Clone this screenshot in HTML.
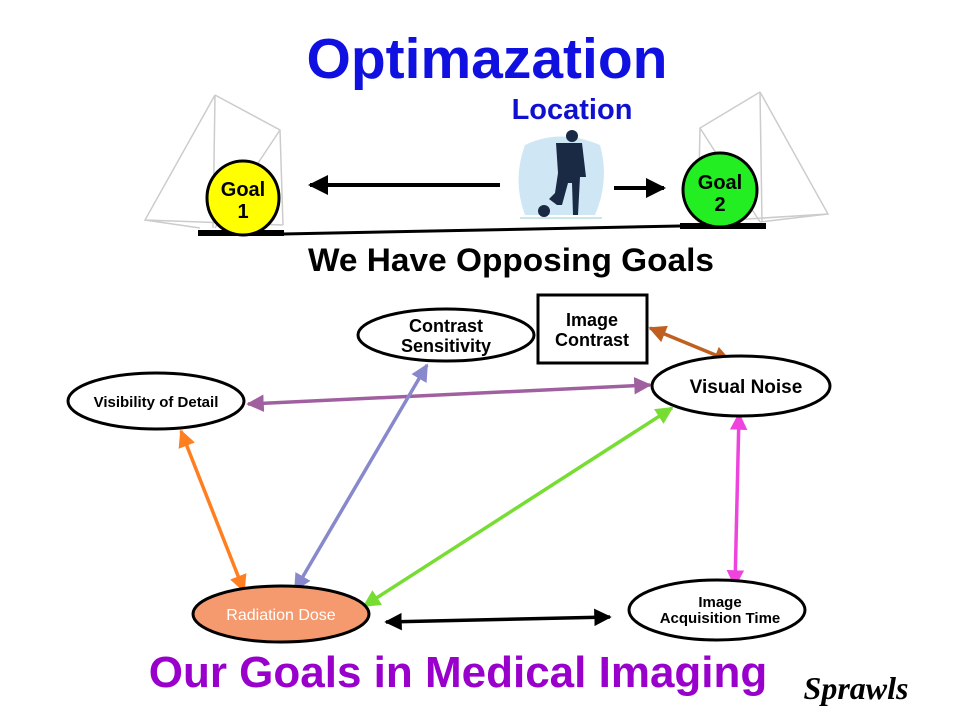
<!DOCTYPE html>
<html><head><style>body{margin:0;background:#fff}svg{display:block}</style></head><body>
<svg width="960" height="720" viewBox="0 0 960 720" xmlns="http://www.w3.org/2000/svg" font-family="Liberation Sans, sans-serif">
<defs>
<marker id="m" viewBox="0 0 10 10" refX="9" refY="5" markerWidth="5" markerHeight="5" orient="auto-start-reverse" markerUnits="strokeWidth"><path d="M0,0L10,5L0,10z" fill="context-stroke"/></marker>
</defs>
<text x="487" y="78" text-anchor="middle" font-size="57" font-weight="bold" fill="#1010e0">Optimazation</text>
<text x="572" y="119" text-anchor="middle" font-size="29" font-weight="bold" fill="#1010d0">Location</text>
<g stroke="#ccc" fill="none" stroke-width="1.5">
<path d="M215,95 L280,130 L283,225 M215,95 L213,228 M215,95 L145,220 L200,228 M280,130 L215,228 M145,220 L283,225"/>
<path d="M760,92 L700,128 L698,222 M760,92 L762,222 M760,92 L828,214 L760,222 M700,128 L760,222 M828,214 L698,222"/>
</g>
<path d="M525,145 Q560,128 600,145 Q610,180 595,215 L525,215 Q512,180 525,145z" fill="#cfe7f5"/>
<g fill="#1a2a44"><circle cx="572" cy="136" r="6"/><path d="M562,143 h20 l4,34 h-6 l-2,38 h-5 l-1,-32 l-4,0 l-6,22 h-5 l-8,-6 l6,-6 l3,-20 l-2,-30z"/><circle cx="544" cy="211" r="6"/></g>
<line x1="520" y1="218" x2="602" y2="218" stroke="#9cc" stroke-width="1"/>
<line x1="283" y1="234" x2="680" y2="226" stroke="#000" stroke-width="3"/>
<line x1="198" y1="233" x2="284" y2="233" stroke="#000" stroke-width="6"/>
<line x1="680" y1="226" x2="766" y2="226" stroke="#000" stroke-width="6"/>
<ellipse cx="243" cy="198" rx="36" ry="37" fill="#ffff00" stroke="#000" stroke-width="3"/>
<text x="243" y="196" text-anchor="middle" font-size="20" font-weight="bold">Goal</text>
<text x="243" y="218" text-anchor="middle" font-size="20" font-weight="bold">1</text>
<ellipse cx="720" cy="190" rx="37" ry="37" fill="#22ee22" stroke="#000" stroke-width="3"/>
<text x="720" y="189" text-anchor="middle" font-size="20" font-weight="bold">Goal</text>
<text x="720" y="211" text-anchor="middle" font-size="20" font-weight="bold">2</text>
<line x1="500" y1="185" x2="310" y2="185" stroke="#000" stroke-width="4" marker-end="url(#m)"/>
<line x1="614" y1="188" x2="664" y2="188" stroke="#000" stroke-width="4" marker-end="url(#m)"/>
<text x="511" y="271" text-anchor="middle" font-size="32" font-weight="bold" textLength="406" lengthAdjust="spacingAndGlyphs">We Have Opposing Goals</text>
<g stroke-width="3.5" fill="none">
<line x1="248" y1="404" x2="650" y2="385" stroke="#a060a0" marker-start="url(#m)" marker-end="url(#m)"/>
<line x1="295" y1="590" x2="427" y2="365" stroke="#8888cc" marker-start="url(#m)" marker-end="url(#m)"/>
<line x1="364" y1="606" x2="672" y2="408" stroke="#77dd33" marker-start="url(#m)" marker-end="url(#m)"/>
<line x1="181" y1="431" x2="244" y2="591" stroke="#ff7f20" marker-start="url(#m)" marker-end="url(#m)"/>
<line x1="739" y1="414" x2="735" y2="586" stroke="#ee44dd" marker-start="url(#m)" marker-end="url(#m)"/>
<line x1="650" y1="328" x2="730" y2="361" stroke="#c06020" marker-start="url(#m)" marker-end="url(#m)"/>
<line x1="386" y1="622" x2="610" y2="617" stroke="#000" marker-start="url(#m)" marker-end="url(#m)"/>
</g>
<g stroke="#000" stroke-width="3">
<ellipse cx="446" cy="335" rx="88" ry="26" fill="#fff"/>
<rect x="538" y="295" width="109" height="68" fill="#fff"/>
<ellipse cx="741" cy="386" rx="89" ry="30" fill="#fff"/>
<ellipse cx="156" cy="401" rx="88" ry="28" fill="#fff"/>
<ellipse cx="281" cy="614" rx="88" ry="28" fill="#f59a6e"/>
<ellipse cx="717" cy="610" rx="88" ry="30" fill="#fff"/>
</g>
<g font-weight="bold" text-anchor="middle">
<text x="446" y="332" font-size="18">Contrast</text>
<text x="446" y="352" font-size="18">Sensitivity</text>
<text x="592" y="326" font-size="18">Image</text>
<text x="592" y="346" font-size="18">Contrast</text>
<text x="746" y="393" font-size="19">Visual Noise</text>
<text x="156" y="407" font-size="15">Visibility of Detail</text>
<text x="281" y="620" font-size="16" font-weight="normal" fill="#fff">Radiation Dose</text>
<text x="720" y="607" font-size="15">Image</text>
<text x="720" y="623" font-size="15">Acquisition Time</text>
</g>
<text x="458" y="687" text-anchor="middle" font-size="44" font-weight="bold" fill="#9900cc">Our Goals in Medical Imaging</text>
<text x="856" y="699" text-anchor="middle" font-size="32" font-weight="bold" font-style="italic" font-family="Liberation Serif, serif">Sprawls</text>
</svg>
</body></html>
